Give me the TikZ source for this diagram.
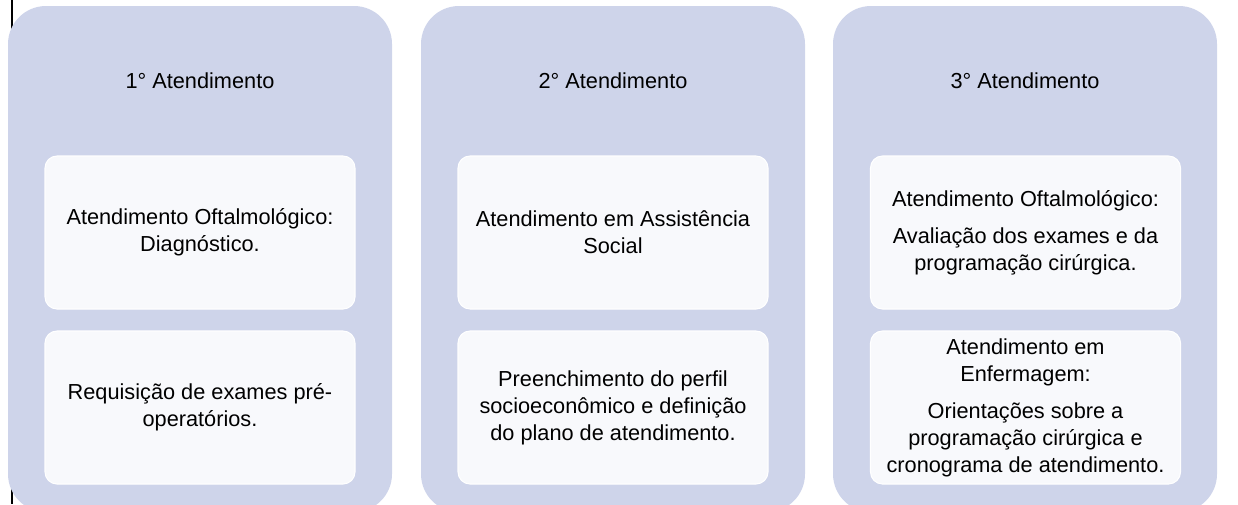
\documentclass[tikz,border=0pt]{standalone}
\usepackage{fontspec}
\setmainfont{Liberation Sans}
\definecolor{outerfill}{HTML}{CED4EA}
\definecolor{innerfill}{HTML}{F8F9FC}
\begin{document}
\begin{tikzpicture}[x=0.75pt,y=-0.75pt,
  outerbox/.style={fill=outerfill, draw=none, rounded corners=28.5pt,
    minimum width=288pt, minimum height=379.5pt, inner sep=0pt},
  innerbox/.style={fill=innerfill, draw=white, line width=0.8pt, rounded corners=9pt,
    minimum width=232.5pt, minimum height=114.75pt, inner sep=0pt,
    font=\fontsize{16.3}{20.25}\selectfont, align=center, text=black},
  titlelbl/.style={font=\fontsize{16.3}{20.25}\selectfont, text=black, inner sep=0pt}]
\useasboundingbox (0,0) rectangle (1238,504);
\clip (0,0) rectangle (1238,504);
\coordinate (ltop) at (12,0);
\coordinate (lbot) at (12,504);
\draw[black, line width=1.2pt] (ltop) -- (lbot);
% columns
\node[outerbox] (col1) at (200,259) {};
\node[outerbox] (col2) at (613,259) {};
\node[outerbox] (col3) at (1025,259) {};
% titles
\node[titlelbl] (t1) at (200,81) {1° Atendimento};
\node[titlelbl] (t2) at (613,81) {2° Atendimento};
\node[titlelbl] (t3) at (1025,81) {3° Atendimento};
% inner boxes
\node[innerbox] (a1) at (200,232.5) {Atendimento Oftalmológico:\\Diagnóstico.};
\node[innerbox] (a2) at (200,407.5) {Requisição de exames pré-\\operatórios.};
\node[innerbox] (b1) at (613,232.5) {Atendimento em Assistência\\Social};
\node[innerbox] (b2) at (613,407.5) {Preenchimento do perfil\\socioeconômico e definição\\do plano de atendimento.};
\node[innerbox] (c1) at (1025.5,232.5) {Atendimento Oftalmológico:\\[7.5pt]Avaliação dos exames e da\\programação cirúrgica.};
\node[innerbox] (c2) at (1025.5,407.5) {Atendimento em\\Enfermagem:\\[7.5pt]Orientações sobre a\\programação cirúrgica e\\cronograma de atendimento.};
\end{tikzpicture}
\end{document}
